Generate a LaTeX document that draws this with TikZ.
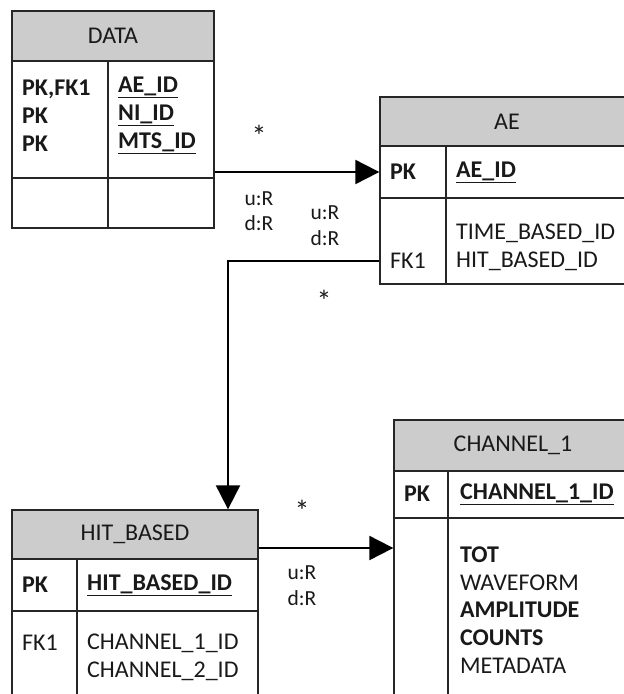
\documentclass[tikz,border=0pt]{standalone}
\usepackage{fontspec}
\setmainfont{Carlito}
\usetikzlibrary{positioning,arrows.meta}

\begin{document}
\begin{tikzpicture}[
  x=1pt, y=-1pt,
  >={Triangle[length=24pt,width=24pt]},
  cell/.style={draw=black!85, line width=1.3pt, inner sep=0pt, text=textc,
    font=\fontsize{24}{28}\selectfont},
  hdr/.style={cell, fill=headc},
  txt/.style={inner sep=0pt, anchor=west, align=left, text=textc,
    font=\fontsize{24}{27.8}\selectfont},
  labl/.style={inner sep=0pt, align=left, text=textc,
    font=\fontsize{21.5}{25.5}\selectfont},
  star/.style={inner sep=0pt, text=textc, font=\fontsize{30}{30}\selectfont},
  conn/.style={->, line width=2pt}
]
\colorlet{headc}{black!20}
\colorlet{textc}{black!90}

\useasboundingbox (0,0) rectangle (624,694);
\clip (0,0) rectangle (624,694);

% DATA table
\node[hdr, minimum width=202pt, minimum height=50pt] (DATA) at (113,36) {DATA};
\node[cell, minimum width=96pt, minimum height=117pt] (DATAk) at (60,119.5) {};
\node[cell, minimum width=106pt, minimum height=117pt] (DATAf) at (161,119.5) {};
\node[cell, minimum width=96pt, minimum height=50pt] (DATAe1) at (60,203) {};
\node[cell, minimum width=106pt, minimum height=50pt] (DATAe2) at (161,203) {};
\node[txt] (DATAkt) at (22,115.5) {\textbf{PK,FK1}\\\textbf{PK}\\\textbf{PK}};
\node[txt] (DATAft) at (118,115.5) {\textbf{\underline{AE\_ID}}\\\textbf{\underline{NI\_ID}}\\\textbf{\underline{MTS\_ID}}};

% AE table
\node[hdr, minimum width=254pt, minimum height=49pt] (AE) at (507,121.5) {AE};
\node[cell, minimum width=66pt, minimum height=52pt] (AEpk) at (413,172) {};
\node[cell, minimum width=188pt, minimum height=52pt] (AEid) at (540,172) {};
\node[cell, minimum width=66pt, minimum height=86pt] (AEb) at (413,241) {};
\node[cell, minimum width=188pt, minimum height=86pt] (AEbf) at (540,241) {};
\node[txt] (AEpkt) at (390,172) {\textbf{PK}};
\node[txt] (AEidt) at (456,172) {\textbf{\underline{AE\_ID}}};
\node[txt] (AEft) at (456,247) {TIME\_BASED\_ID\\HIT\_BASED\_ID};
\node[txt] (AEfk) at (390,261) {FK1};

% HIT_BASED table
\node[hdr, minimum width=246pt, minimum height=49pt] (HIT) at (135,534.5) {HIT\_BASED};
\node[cell, minimum width=65pt, minimum height=52pt] (HITpk) at (44.5,585) {};
\node[cell, minimum width=181pt, minimum height=52pt] (HITid) at (167.5,585) {};
\node[cell, minimum width=65pt, minimum height=100pt] (HITb) at (44.5,661) {};
\node[cell, minimum width=181pt, minimum height=100pt] (HITbf) at (167.5,661) {};
\node[txt] (HITpkt) at (22,585) {\textbf{PK}};
\node[txt] (HITidt) at (87,585) {\textbf{\underline{HIT\_BASED\_ID}}};
\node[txt] (HITfk) at (22,643) {FK1};
\node[txt] (HITft) at (87,657) {CHANNEL\_1\_ID\\CHANNEL\_2\_ID};

% CHANNEL_1 table
\node[hdr, minimum width=238pt, minimum height=51pt] (CH) at (513,445.5) {CHANNEL\_1};
\node[cell, minimum width=54pt, minimum height=47pt] (CHpk) at (421,494.5) {};
\node[cell, minimum width=184pt, minimum height=47pt] (CHid) at (540,494.5) {};
\node[cell, minimum width=54pt, minimum height=190pt] (CHb) at (421,613) {};
\node[cell, minimum width=184pt, minimum height=190pt] (CHbf) at (540,613) {};
\node[txt] (CHpkt) at (404,494) {\textbf{PK}};
\node[txt] (CHidt) at (460,494) {\textbf{\underline{CHANNEL\_1\_ID}}};
\node[txt] (CHft) at (460,610) {\textbf{TOT}\\WAVEFORM\\\textbf{AMPLITUDE}\\\textbf{COUNTS}\\METADATA};

% Labels
\node[star] (s1) at (259,136) {*};
\node[star] (s2) at (324,301) {*};
\node[star] (s3) at (302,511) {*};
\node[labl] (r1) at (259,211) {u:R\\d:R};
\node[labl] (r2) at (325,225.5) {u:R\\d:R};
\node[labl] (r3) at (302,585.5) {u:R\\d:R};

% Arrows
\coordinate (turn) at (228,261);
\draw[conn] (AEpk.west -| DATAf.east) -- (AEpk.west);
\draw[conn] (AEb.west |- AEfk) -- (turn) -- (turn |- HIT.north);
\draw[conn] ([yshift=-13.5pt]HIT.east) -- ([yshift=-13.5pt]HIT.east -| CHb.west);
\end{tikzpicture}
\end{document}
